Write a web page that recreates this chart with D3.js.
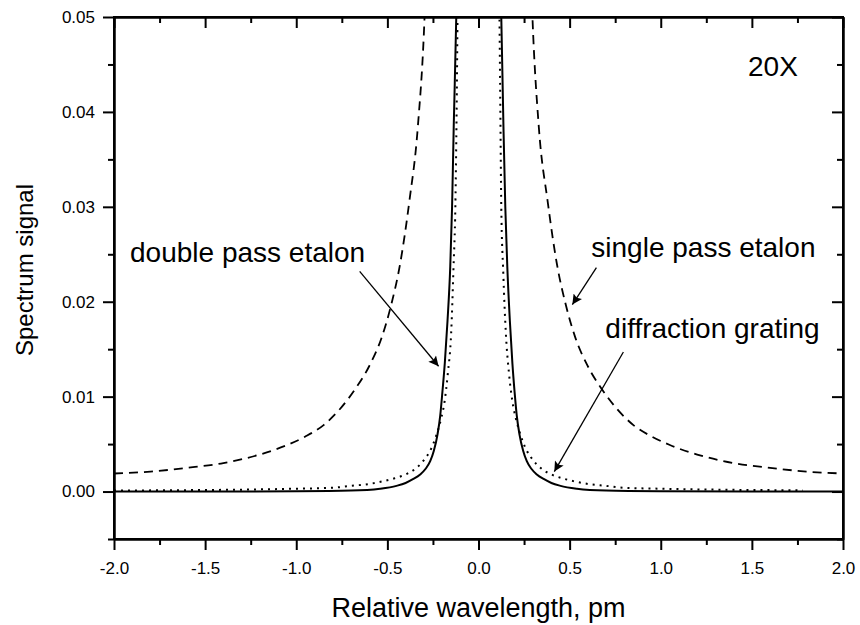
<!DOCTYPE html>
<html>
<head>
<meta charset="utf-8">
<script src="https://cdn.jsdelivr.net/npm/d3@7"></script>
<style>
  body { margin: 0; background: #fff; }
  svg { display: block; font-family: "Liberation Sans", Arial, sans-serif; }
  .axis path, .axis line { stroke: #000; stroke-width: 2; }
  .axis text { font-size: 17px; fill: #000; }
</style>
</head>
<body>
<div id="chart"></div>
<script>
// tick values
const xMajor = [-2.0, -1.5, -1.0, -0.5, 0.0, 0.5, 1.0, 1.5, 2.0];
const xMinor = [-1.75, -1.25, -0.75, -0.25, 0.25, 0.75, 1.25, 1.75];
const yMajor = [0.00, 0.01, 0.02, 0.03, 0.04, 0.05];
const yMinor = [-0.005, 0.005, 0.015, 0.025, 0.035, 0.045];

// single pass etalon (dashed), two branches clipped at the top
const singleLeft = [
  [-2.00, 0.0019], [-1.80, 0.0021], [-1.60, 0.0025], [-1.40, 0.0030], [-1.20, 0.0039],
  [-1.05, 0.0049], [-0.95, 0.0058], [-0.85, 0.0070], [-0.76, 0.0087], [-0.68, 0.0107],
  [-0.60, 0.0132], [-0.53, 0.0163], [-0.48, 0.0196], [-0.43, 0.0240], [-0.38, 0.0305],
  [-0.333, 0.0384], [-0.296, 0.0500], [-0.285, 0.0560]
];
const singleRight = [
  [0.285, 0.0560], [0.296, 0.0500], [0.331, 0.0384], [0.38, 0.0305], [0.43, 0.0240],
  [0.48, 0.0196], [0.53, 0.0163], [0.60, 0.0132], [0.68, 0.0107], [0.76, 0.0087],
  [0.85, 0.0070], [0.95, 0.0058], [1.05, 0.0049], [1.20, 0.0039], [1.40, 0.0030],
  [1.60, 0.0025], [1.80, 0.0021], [2.00, 0.0019]
];

// double pass etalon (solid)
const doublePass = [
  [-2.00, 0.0000], [-1.50, 0.0000], [-1.00, 0.00003], [-0.70, 0.0001], [-0.54, 0.0003],
  [-0.45, 0.0006], [-0.40, 0.0009], [-0.36, 0.0013], [-0.32, 0.0018], [-0.29, 0.0024],
  [-0.265, 0.0032], [-0.245, 0.0043], [-0.225, 0.0060], [-0.21, 0.0080], [-0.198, 0.0105],
  [-0.185, 0.0135], [-0.17, 0.0180], [-0.155, 0.0237], [-0.145, 0.0300], [-0.136, 0.0384],
  [-0.122, 0.0500], [-0.115, 0.0580],
  [0.115, 0.0580], [0.125, 0.0500], [0.137, 0.0384], [0.147, 0.0300], [0.158, 0.0237],
  [0.172, 0.0180], [0.186, 0.0135], [0.198, 0.0105], [0.21, 0.0080], [0.225, 0.0060],
  [0.245, 0.0043], [0.265, 0.0032], [0.29, 0.0024], [0.32, 0.0018], [0.36, 0.0013],
  [0.40, 0.0009], [0.45, 0.0006], [0.54, 0.0003], [0.70, 0.0001], [1.00, 0.00003],
  [1.50, 0.0000], [2.00, 0.0000]
];

// diffraction grating (dotted)
const grating = [
  [-2.00, 0.0001], [-1.60, 0.00015], [-1.30, 0.0002], [-1.00, 0.0003], [-0.80, 0.0004],
  [-0.70, 0.0006], [-0.60, 0.0008], [-0.52, 0.0011], [-0.46, 0.0014], [-0.40, 0.0018],
  [-0.34, 0.0025], [-0.296, 0.0034], [-0.26, 0.0045], [-0.23, 0.0060], [-0.205, 0.0077],
  [-0.186, 0.0095], [-0.168, 0.0125], [-0.150, 0.0167], [-0.137, 0.0237], [-0.127, 0.0300],
  [-0.119, 0.0420], [-0.115, 0.0500], [-0.110, 0.0580],
  [0.110, 0.0580], [0.115, 0.0500], [0.119, 0.0420], [0.125, 0.0300], [0.136, 0.0230],
  [0.150, 0.0167], [0.167, 0.0125], [0.186, 0.0095], [0.205, 0.0077], [0.23, 0.0060],
  [0.26, 0.0045], [0.296, 0.0034], [0.34, 0.0025], [0.40, 0.0018], [0.46, 0.0014],
  [0.52, 0.0011], [0.60, 0.0008], [0.70, 0.0006], [0.80, 0.0004], [1.00, 0.0003],
  [1.30, 0.0002], [1.60, 0.00015], [1.78, 0.00012]
];

// annotations in data units: label position, arrow start, arrow tip
const labels = [
  { text: "double pass etalon", at: [-1.912, 0.0242], from: [-0.652, 0.0232], to: [-0.219, 0.0132] },
  { text: "single pass etalon", at: [0.619, 0.0247], from: [0.647, 0.0236], to: [0.515, 0.0197] },
  { text: "diffraction grating", at: [0.696, 0.0162], from: [0.795, 0.0147], to: [0.416, 0.0021] },
  { text: "20X", at: [1.479, 0.0438] }
];

const W = 860, H = 625;
const margin = { top: 17, right: 17, bottom: 86, left: 114 };
const iw = W - margin.left - margin.right;
const ih = H - margin.top - margin.bottom;

const svg = d3.select("#chart").append("svg")
  .attr("width", W).attr("height", H);

const x = d3.scaleLinear().domain([-2, 2]).range([0, iw]);
const y = d3.scaleLinear().domain([-0.005, 0.05]).range([ih, 0]);

const defs = svg.append("defs");
defs.append("clipPath").attr("id", "plotClip")
  .append("rect").attr("width", iw).attr("height", ih);
defs.append("marker")
  .attr("id", "arrow")
  .attr("viewBox", "0 0 10 10")
  .attr("refX", 10).attr("refY", 5)
  .attr("markerWidth", 15).attr("markerHeight", 10)
  .attr("markerUnits", "userSpaceOnUse")
  .attr("orient", "auto")
  .append("path").attr("d", "M0,0 L10,5 L0,10 L2,5 Z").attr("fill", "#000");

const g = svg.append("g").attr("transform", `translate(${margin.left},${margin.top})`);

const fmtX = d => d3.format(".1f")(d).replace("\u2212", "-");
const fmtY = d => d3.format(".2f")(d).replace("\u2212", "-");

// curves
const line = d3.line().x(d => x(d[0])).y(d => y(d[1])).curve(d3.curveMonotoneX);
const curves = g.append("g").attr("clip-path", "url(#plotClip)");
[singleLeft, singleRight].forEach(s => {
  curves.append("path").attr("d", line(s))
    .attr("fill", "none").attr("stroke", "#000")
    .attr("stroke-width", 1.8).attr("stroke-dasharray", "9,6");
});
curves.append("path").attr("d", line(grating))
  .attr("fill", "none").attr("stroke", "#000")
  .attr("stroke-width", 2).attr("stroke-dasharray", "2,5");
curves.append("path").attr("d", line(doublePass))
  .attr("fill", "none").attr("stroke", "#000").attr("stroke-width", 2);

// axes: major + minor on every side
function addAxis(axisFn, scale, values, size, transform, fmt, pad) {
  const a = axisFn(scale).tickValues(values).tickSizeOuter(0).tickSizeInner(size).tickPadding(pad || 8);
  a.tickFormat(fmt || (() => ""));
  return g.append("g").attr("class", "axis").attr("transform", transform || null).call(a);
}
addAxis(d3.axisBottom, x, xMajor, 11, `translate(0,${ih})`, fmtX, 12);
addAxis(d3.axisBottom, x, xMinor, 6, `translate(0,${ih})`);
addAxis(d3.axisLeft, y, yMajor, 11, null, fmtY);
addAxis(d3.axisLeft, y, yMinor, 6, null);
addAxis(d3.axisTop, x, xMajor, -11, null);
addAxis(d3.axisTop, x, xMinor, -6, null);
addAxis(d3.axisRight, y, yMajor, -11, `translate(${iw},0)`);
addAxis(d3.axisRight, y, yMinor, -6, `translate(${iw},0)`);

// frame
g.append("rect").attr("width", iw).attr("height", ih)
  .attr("fill", "none").attr("stroke", "#000").attr("stroke-width", 2);

// annotations
labels.forEach(l => {
  g.append("text").attr("x", x(l.at[0])).attr("y", y(l.at[1]))
    .attr("font-size", 28).attr("fill", "#000").text(l.text);
  if (l.from) {
    g.append("line")
      .attr("x1", x(l.from[0])).attr("y1", y(l.from[1]))
      .attr("x2", x(l.to[0])).attr("y2", y(l.to[1]))
      .attr("stroke", "#000").attr("stroke-width", 1.3)
      .attr("marker-end", "url(#arrow)");
  }
});

// axis titles
svg.append("text")
  .attr("x", margin.left + iw / 2).attr("y", 617)
  .attr("text-anchor", "middle").attr("font-size", 27)
  .text("Relative wavelength, pm");
svg.append("text")
  .attr("transform", `translate(33,${margin.top + 253}) rotate(-90)`)
  .attr("text-anchor", "middle").attr("font-size", 24)
  .text("Spectrum signal");
</script>
</body>
</html>
